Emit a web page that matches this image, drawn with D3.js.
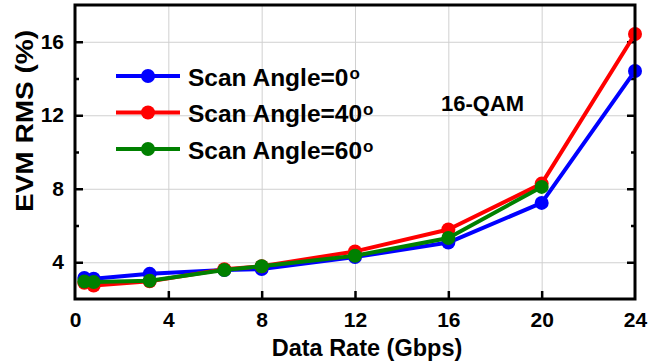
<!DOCTYPE html>
<html>
<head>
<meta charset="utf-8">
<script src="https://cdn.jsdelivr.net/npm/d3@7/dist/d3.min.js"></script>
<style>
  html, body { margin: 0; padding: 0; background: #fff; }
  svg { display: block; font-family: "Liberation Sans", Arial, sans-serif; font-weight: bold; }
</style>
</head>
<body>
<svg id="chart" width="649" height="364"></svg>
<script>
// Data rate (Gbps) sampled for each scan angle
const rates = [0.4, 0.8, 3.2, 6.4, 8, 12, 16, 20, 24];
const ratesAngle60 = [0.4, 0.8, 3.2, 6.4, 8, 12, 16, 20];

// EVM RMS (%) per scan angle
const evmAngle0  = [3.14, 3.10, 3.37, 3.58, 3.63, 4.28, 5.07, 7.23, 14.41];
const evmAngle40 = [2.88, 2.73, 2.96, 3.62, 3.78, 4.59, 5.78, 8.28, 16.42];
const evmAngle60 = [2.95, 2.92, 2.99, 3.58, 3.78, 4.35, 5.32, 8.10];

const seriesNames = ["0", "40", "60"];
const seriesColors = ["#0000ff", "#ff0000", "#008000"];

const xTicks = [0, 4, 8, 12, 16, 20, 24];
const yTicks = [4, 8, 12, 16];
const yMinorTicks = [6, 10, 14];

const xTitle = "Data Rate (Gbps)";
const yTitle = "EVM RMS (%)";
const annotation = "16-QAM";

const series = [
  { name: seriesNames[0], color: seriesColors[0], xs: rates, ys: evmAngle0 },
  { name: seriesNames[1], color: seriesColors[1], xs: rates, ys: evmAngle40 },
  { name: seriesNames[2], color: seriesColors[2], xs: ratesAngle60, ys: evmAngle60 }
];

const svg = d3.select("#chart");
const margin = { left: 75, right: 14, top: 5, bottom: 65 };
const W = 649, H = 364;
const iw = W - margin.left - margin.right;
const ih = H - margin.top - margin.bottom;

const x = d3.scaleLinear().domain([0, 24]).range([0, iw]);
const y = d3.scaleLinear().domain([2, 18]).range([ih, 0]);

const g = svg.append("g").attr("transform", `translate(${margin.left},${margin.top})`);

// grid
const gridX = g.append("g").attr("transform", `translate(0,${ih})`)
  .call(d3.axisBottom(x).tickValues([4, 8, 12, 16, 20]).tickSize(-ih).tickFormat(""));
const gridY = g.append("g")
  .call(d3.axisLeft(y).tickValues(yTicks).tickSize(-iw).tickFormat(""));
[gridX, gridY].forEach(a => {
  a.select(".domain").remove();
  a.selectAll("line").attr("stroke", "#d0d0d0").attr("stroke-width", 1);
});

// axes with inward ticks
const fontTick = 21;
const axB = g.append("g").attr("transform", `translate(0,${ih})`)
  .call(d3.axisBottom(x).tickValues(xTicks).tickSize(-8).tickPadding(13));
const axL = g.append("g")
  .call(d3.axisLeft(y).tickValues(yTicks).tickSize(-8).tickPadding(11));
const axLm = g.append("g")
  .call(d3.axisLeft(y).tickValues(yMinorTicks).tickSize(-4).tickFormat(""));
const axR = g.append("g").attr("transform", `translate(${iw},0)`)
  .call(d3.axisRight(y).tickValues(yTicks).tickSize(-8).tickFormat(""));
const axRm = g.append("g").attr("transform", `translate(${iw},0)`)
  .call(d3.axisRight(y).tickValues(yMinorTicks).tickSize(-4).tickFormat(""));
[axB, axL, axLm, axR, axRm].forEach(a => {
  a.select(".domain").remove();
  a.selectAll("line").attr("stroke", "#000").attr("stroke-width", 2.5);
  a.selectAll("text").attr("fill", "#000")
    .style("font-family", "'Liberation Sans', Arial, sans-serif")
    .style("font-weight", "bold").style("font-size", fontTick + "px");
});
axB.selectAll(".tick line").filter(d => d === 0 || d === 24).remove();

// series lines and markers
const line = d3.line().x(d => x(d[0])).y(d => y(d[1]));
series.forEach(s => {
  const pts = s.xs.map((v, i) => [v, s.ys[i]]);
  const sg = g.append("g");
  sg.append("path").datum(pts).attr("d", line)
    .attr("fill", "none").attr("stroke", s.color).attr("stroke-width", 4)
    .attr("stroke-linejoin", "round");
  sg.selectAll("circle").data(pts).join("circle")
    .attr("cx", d => x(d[0])).attr("cy", d => y(d[1])).attr("r", 7)
    .attr("fill", s.color);
});

// frame
g.append("rect").attr("x", 0).attr("y", 0).attr("width", iw).attr("height", ih)
  .attr("fill", "none").attr("stroke", "#000").attr("stroke-width", 3);

// legend
const legend = svg.append("g").attr("transform", "translate(116,76)");
series.forEach((s, i) => {
  const row = legend.append("g").attr("transform", `translate(0,${i * 36.5})`);
  row.append("line").attr("x1", 0).attr("x2", 64).attr("y1", 0).attr("y2", 0)
    .attr("stroke", s.color).attr("stroke-width", 4);
  row.append("circle").attr("cx", 32).attr("cy", 0).attr("r", 7).attr("fill", s.color);
  const t = row.append("text").attr("x", 72).attr("y", 9.5)
    .style("font-size", "24.5px").attr("fill", "#000");
  t.append("tspan").text("Scan Angle=" + s.name);
  t.append("tspan").attr("dy", -7).attr("dx", 1).style("font-size", "17px").text("o");
});

// annotation
svg.append("text").attr("x", 441).attr("y", 110.5)
  .style("font-size", "22px").attr("fill", "#000").text(annotation);

// axis titles
svg.append("text").attr("x", 367).attr("y", 356)
  .attr("text-anchor", "middle").style("font-size", "23.5px").attr("fill", "#000").text(xTitle);
svg.append("text").attr("transform", "translate(33,121) rotate(-90)")
  .attr("text-anchor", "middle").style("font-size", "24px")
  .attr("textLength", 182).attr("lengthAdjust", "spacingAndGlyphs")
  .attr("fill", "#000").text(yTitle);
</script>
</body>
</html>
